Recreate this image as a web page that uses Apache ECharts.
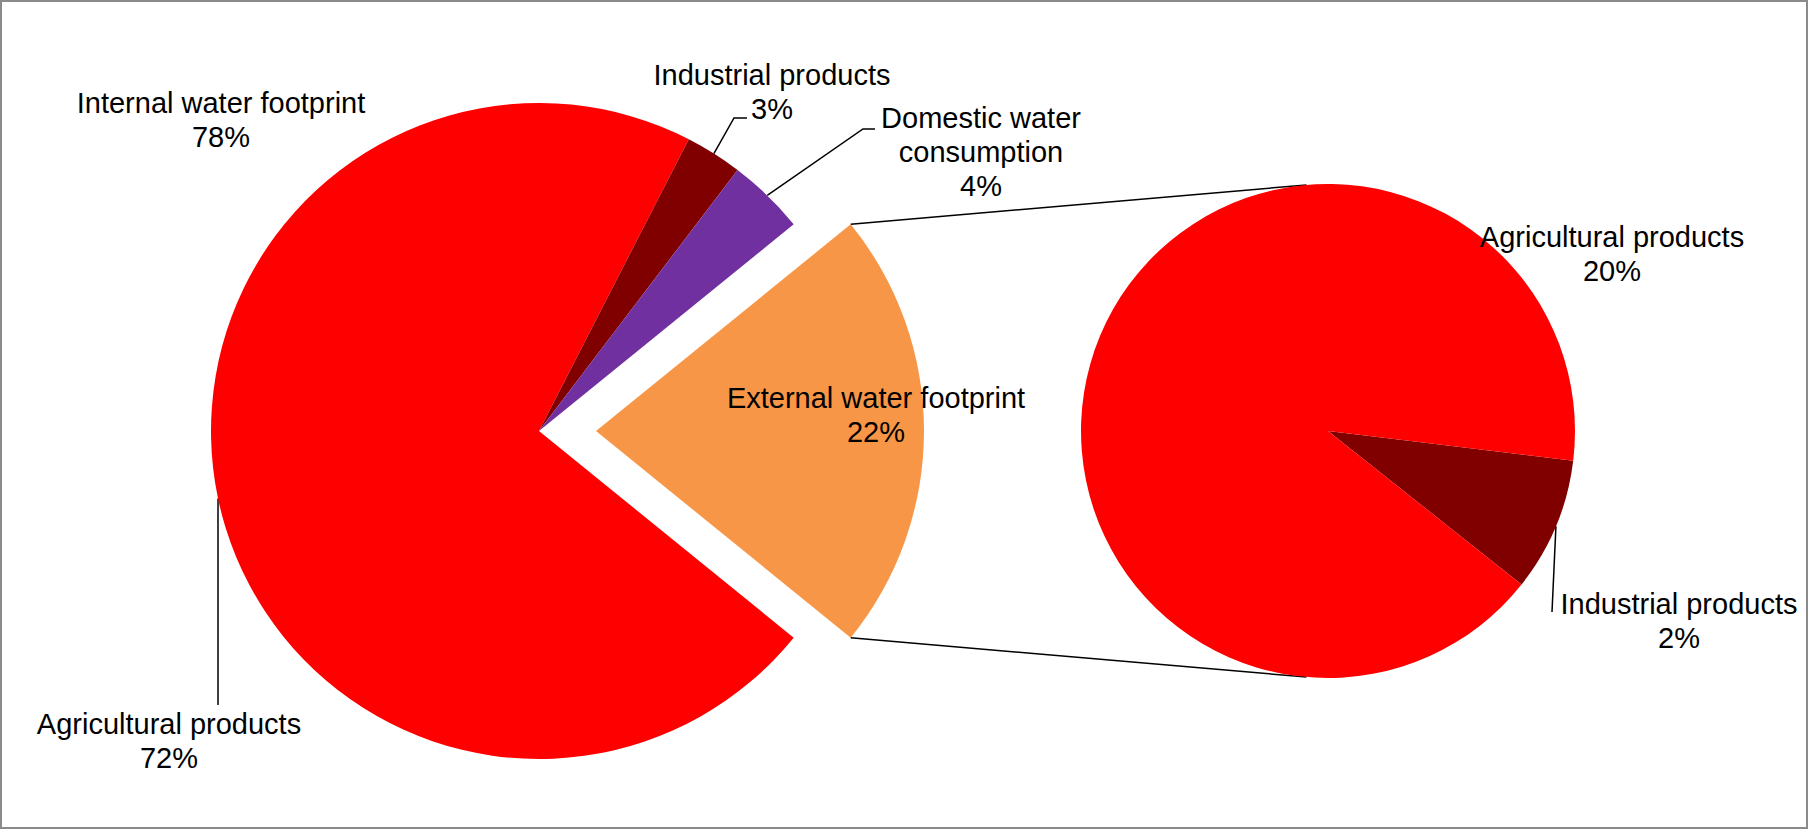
<!DOCTYPE html>
<html>
<head>
<meta charset="utf-8">
<title>Water footprint</title>
<script src="https://cdn.jsdelivr.net/npm/echarts@6/dist/echarts.min.js"></script>
<style>
  html, body { margin: 0; padding: 0; background: #fff; }
  #chart { width: 1808px; height: 829px; }
</style>
</head>
<body>
<div id="chart"></div>
<script>
// main pie (share of total water footprint, %)
const mainNames = ['External water footprint', 'Agricultural products', 'Industrial products', 'Domestic water\nconsumption'];
const mainValues = [21.7, 71.7, 2.8, 3.8];
const mainColors = ['#F79646', '#FF0000', '#800000', '#7030A0'];

// breakdown of the external part (%)
const subNames = ['Industrial products', 'Agricultural products'];
const subValues = [1.9, 19.8];
const subColors = ['#800000', '#FF0000'];

const internalName = 'Internal water footprint';

// geometry
const mainCenter = [539, 431];
const mainRadius = 328;
const explode = 57;
const subCenter = [1328, 431];
const subRadius = 247;
const subStart = -6.9;
const fontCss = '29px Arial, "Liberation Sans", sans-serif';
const font = { fontFamily: 'Arial, "Liberation Sans", sans-serif', fontSize: 29, lineHeight: 34, color: '#000' };

// label centres and leader line bends (pixels)
const mainLabelPos = [
    { x: 876, y: 415 },
    { x: 169, y: 741, line: [[218, 705]] },
    { x: 772, y: 92, line: [[734, 118], [747, 118]] },
    { x: 981, y: 152, line: [[863, 129], [875, 129]] }
];
const subLabelPos = [
    { x: 1679, y: 621, line: [[1552, 612]] },
    { x: 1612, y: 254 }
];
const internalLabelPos = { x: 221, y: 120 };

const chart = echarts.init(document.getElementById('chart'), null, { renderer: 'svg' });

const total = mainValues.reduce((a, b) => a + b, 0);
const pct = (v) => Math.round(v / total * 100) + '%';
const startAngle = mainValues[0] / total * 180;
const internal = mainValues.slice(1).reduce((a, b) => a + b, 0);

// connector lines from exploded slice to the second pie
const rad = Math.PI / 180;
const apex = [mainCenter[0] + explode, mainCenter[1]];
const topA = [apex[0] + mainRadius * Math.cos(startAngle * rad), apex[1] - mainRadius * Math.sin(startAngle * rad)];
const botA = [topA[0], apex[1] + mainRadius * Math.sin(startAngle * rad)];
const topB = [subCenter[0] + subRadius * Math.cos(95 * rad), subCenter[1] - subRadius * Math.sin(95 * rad)];
const botB = [topB[0], subCenter[1] + subRadius * Math.sin(95 * rad)];

function layoutFor(posList) {
    return function (p) {
        const pos = posList[p.dataIndex];
        const out = { x: pos.x, y: pos.y, align: 'center', verticalAlign: 'middle' };
        if (pos.line && p.labelLinePoints) {
            const pts = [p.labelLinePoints[0]].concat(pos.line);
            while (pts.length < 3) pts.push(pts[pts.length - 1]);
            out.labelLinePoints = pts;
        }
        return out;
    };
}

function textEl(pos, text) {
    return {
        type: 'text',
        x: pos.x,
        y: pos.y,
        z: 10,
        style: { text: text, textAlign: 'center', textVerticalAlign: 'middle', font: fontCss, lineHeight: 34, fill: '#000' }
    };
}

const labelFormatter = (p) => p.name + '\n' + pct(p.value);

const option = {
    animation: false,
    backgroundColor: '#fff',
    graphic: [
        {
            type: 'rect',
            shape: { x: 1, y: 1, width: 1806, height: 827 },
            style: { fill: 'none', stroke: '#8a8a8a', lineWidth: 2 },
            silent: true
        },
        {
            type: 'line',
            shape: { x1: topA[0], y1: topA[1], x2: topB[0], y2: topB[1] },
            style: { stroke: '#000', lineWidth: 1.5 }
        },
        {
            type: 'line',
            shape: { x1: botA[0], y1: botA[1], x2: botB[0], y2: botB[1] },
            style: { stroke: '#000', lineWidth: 1.5 }
        },
        textEl(internalLabelPos, internalName + '\n' + pct(internal)),
        // the exploded slice's own label follows its select state, so it is drawn here
        textEl(mainLabelPos[0], mainNames[0] + '\n' + pct(mainValues[0]))
    ],
    series: [
        {
            type: 'pie',
            center: mainCenter,
            radius: mainRadius,
            startAngle: startAngle,
            clockwise: true,
            selectedMode: 'single',
            selectedOffset: explode,
            avoidLabelOverlap: false,
            emphasis: { disabled: true },
            itemStyle: { borderWidth: 0 },
            label: Object.assign({ show: true, position: 'outside', formatter: labelFormatter }, font),
            labelLine: { show: true, length: 20, length2: 10, lineStyle: { color: '#000', width: 1.5 } },
            labelLayout: layoutFor(mainLabelPos),
            data: mainValues.map((v, i) => ({
                name: mainNames[i],
                value: v,
                selected: i === 0,
                itemStyle: { color: mainColors[i] },
                select: { itemStyle: { color: mainColors[i] }, label: { show: i !== 0 } },
                label: { show: i !== 0 },
                labelLine: { show: i !== 0 }
            }))
        },
        {
            type: 'pie',
            center: subCenter,
            radius: subRadius,
            startAngle: subStart,
            clockwise: true,
            avoidLabelOverlap: false,
            emphasis: { disabled: true },
            itemStyle: { borderWidth: 0 },
            label: Object.assign({ show: true, position: 'outside', formatter: labelFormatter }, font),
            labelLine: { show: true, length: 20, length2: 10, lineStyle: { color: '#000', width: 1.5 } },
            labelLayout: layoutFor(subLabelPos),
            data: subValues.map((v, i) => ({
                name: subNames[i],
                value: v,
                itemStyle: { color: subColors[i] },
                labelLine: { show: i === 0 }
            }))
        }
    ]
};

chart.setOption(option);
</script>
</body>
</html>
